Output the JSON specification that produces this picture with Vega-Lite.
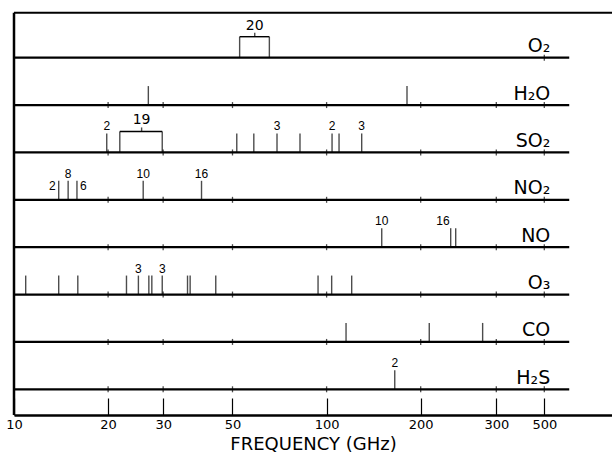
{
  "$schema": "https://vega.github.io/schema/vega-lite/v6.json",
  "width": 598,
  "height": 402.3,
  "autosize": {"type": "none"},
  "padding": {"left": 14, "top": 12.7, "right": 0, "bottom": 39},
  "background": "white",
  "config": {"view": {"stroke": null}},
  "datasets": {
    "rows": [
      {"mol": "O₂", "ticks": [500]},
      {"mol": "H₂O", "ticks": [20, 30, 50, 100, 200, 300, 500]},
      {"mol": "SO₂", "ticks": [20, 30, 50, 100, 200, 300, 500]},
      {"mol": "NO₂", "ticks": [20, 30, 50, 100, 200, 300, 500]},
      {"mol": "NO", "ticks": [20, 30, 50, 100, 200, 300, 500]},
      {"mol": "O₃", "ticks": [20, 30, 50, 100, 200, 300, 500]},
      {"mol": "CO", "ticks": [20, 30, 50, 100, 200, 300, 500]},
      {"mol": "H₂S", "ticks": [20, 30, 50, 100, 200, 300, 500]}
    ],
    "lines": [
      {"mol": "H₂O", "freq": 26.9},
      {"mol": "H₂O", "freq": 180.8},
      {"mol": "SO₂", "freq": 19.8},
      {"mol": "SO₂", "freq": 51.6},
      {"mol": "SO₂", "freq": 58.5},
      {"mol": "SO₂", "freq": 69.4},
      {"mol": "SO₂", "freq": 82.2},
      {"mol": "SO₂", "freq": 104.1},
      {"mol": "SO₂", "freq": 109.6},
      {"mol": "SO₂", "freq": 129.5},
      {"mol": "NO₂", "freq": 13.9},
      {"mol": "NO₂", "freq": 14.9},
      {"mol": "NO₂", "freq": 15.9},
      {"mol": "NO₂", "freq": 25.9},
      {"mol": "NO₂", "freq": 39.8},
      {"mol": "NO", "freq": 150.1},
      {"mol": "NO", "freq": 234.9},
      {"mol": "NO", "freq": 241.3},
      {"mol": "O₃", "freq": 10.9},
      {"mol": "O₃", "freq": 13.9},
      {"mol": "O₃", "freq": 16.0},
      {"mol": "O₃", "freq": 22.9},
      {"mol": "O₃", "freq": 25.0},
      {"mol": "O₃", "freq": 27.0},
      {"mol": "O₃", "freq": 27.6},
      {"mol": "O₃", "freq": 29.8},
      {"mol": "O₃", "freq": 35.9},
      {"mol": "O₃", "freq": 36.6},
      {"mol": "O₃", "freq": 44.2},
      {"mol": "O₃", "freq": 93.9},
      {"mol": "O₃", "freq": 103.8},
      {"mol": "O₃", "freq": 120.3},
      {"mol": "CO", "freq": 115.4},
      {"mol": "CO", "freq": 209.4},
      {"mol": "CO", "freq": 278.8},
      {"mol": "H₂S", "freq": 165.2}
    ],
    "braces": [
      {"mol": "O₂", "lo": 52.7, "hi": 65.6, "mid": 58.9, "label": "20"},
      {"mol": "SO₂", "lo": 21.8, "hi": 29.8, "mid": 25.6, "label": "19"}
    ],
    "labelsAbove": [
      {"mol": "SO₂", "freq": 19.8, "label": "2"},
      {"mol": "SO₂", "freq": 69.4, "label": "3"},
      {"mol": "SO₂", "freq": 104.1, "label": "2"},
      {"mol": "SO₂", "freq": 129.5, "label": "3"},
      {"mol": "NO₂", "freq": 14.9, "label": "8"},
      {"mol": "NO₂", "freq": 25.9, "label": "10"},
      {"mol": "NO₂", "freq": 39.8, "label": "16"},
      {"mol": "NO", "freq": 150.1, "label": "10"},
      {"mol": "O₃", "freq": 25.0, "label": "3"},
      {"mol": "O₃", "freq": 29.8, "label": "3"},
      {"mol": "H₂S", "freq": 165.2, "label": "2"}
    ],
    "labelsAboveLeft": [
      {"mol": "NO", "freq": 234.9, "label": "16"}
    ],
    "labelsLeft": [
      {"mol": "NO₂", "freq": 13.9, "label": "2"}
    ],
    "labelsRight": [
      {"mol": "NO₂", "freq": 15.9, "label": "6"}
    ]
  },
  "resolve": {"scale": {"y": "independent"}},
  "layer": [
    {
      "data": {"values": [{}]},
      "layer": [
        {
          "mark": {"type": "rule", "strokeWidth": 2.5, "color": "black"},
          "encoding": {
            "x": {"datum": 10, "type": "quantitative"},
            "y": {"datum": 0, "type": "quantitative", "scale": {"domain": [0, 1]}, "axis": null},
            "y2": {"datum": 1}
          }
        },
        {
          "mark": {"type": "rule", "strokeWidth": 2, "color": "black"},
          "encoding": {
            "x": {"datum": 10, "type": "quantitative"},
            "x2": {"datum": 824},
            "y": {"datum": 1, "type": "quantitative", "scale": {"domain": [0, 1]}, "axis": null}
          }
        }
      ]
    },
    {
      "layer": [
        {
          "data": {"name": "lines"},
          "mark": {"type": "tick", "orient": "vertical", "size": 19, "thickness": 1.4, "color": "black", "yOffset": -9.5},
          "encoding": {
            "x": {
              "field": "freq", "type": "quantitative", "title": "FREQUENCY (GHz)",
              "scale": {"type": "log", "domain": [10, 200, 300, 500, 824], "range": [0, 406.7, 482.3, 530.3, 598], "nice": false},
              "axis": {
                "values": [10, 20, 30, 50, 100, 200, 300, 500], "format": "d",
                "grid": false, "tickSize": -17, "tickWidth": 1.2, "tickColor": "black",
                "domainColor": "black", "domainWidth": 2.5,
                "labelFont": "DejaVu Sans", "labelFontSize": 13, "labelColor": "black",
                "labelPadding": 20, "labelFlush": false, "labelOverlap": false,
                "titleFont": "DejaVu Sans", "titleFontSize": 18, "titleFontWeight": "normal",
                "titleColor": "black", "titlePadding": 4
              }
            },
            "y": {"field": "mol", "type": "nominal", "axis": null,
                  "scale": {"type": "point", "domain": ["O₂", "H₂O", "SO₂", "NO₂", "NO", "O₃", "CO", "H₂S"], "padding": 0.7464, "align": 0.6365}}
          }
        },
        {
          "data": {"name": "rows"},
          "mark": {"type": "rule", "strokeWidth": 2.3, "color": "black"},
          "encoding": {
            "x": {"datum": 10, "type": "quantitative"},
            "x2": {"datum": 601},
            "y": {"field": "mol", "type": "nominal", "axis": null}
          }
        },
        {
          "data": {"name": "rows"},
          "transform": [{"flatten": ["ticks"], "as": ["tick"]}],
          "mark": {"type": "tick", "orient": "vertical", "size": 6, "thickness": 1.3, "color": "black"},
          "encoding": {
            "x": {"field": "tick", "type": "quantitative", "title": "FREQUENCY (GHz)"},
            "y": {"field": "mol", "type": "nominal", "axis": null}
          }
        },
        {
          "data": {"name": "braces"},
          "mark": {"type": "tick", "orient": "vertical", "size": 21, "thickness": 1.4, "color": "black", "yOffset": -10.5},
          "encoding": {
            "x": {"field": "lo", "type": "quantitative", "title": "FREQUENCY (GHz)"},
            "y": {"field": "mol", "type": "nominal", "axis": null}
          }
        },
        {
          "data": {"name": "braces"},
          "mark": {"type": "tick", "orient": "vertical", "size": 21, "thickness": 1.4, "color": "black", "yOffset": -10.5},
          "encoding": {
            "x": {"field": "hi", "type": "quantitative", "title": "FREQUENCY (GHz)"},
            "y": {"field": "mol", "type": "nominal", "axis": null}
          }
        },
        {
          "data": {"name": "braces"},
          "mark": {"type": "rule", "strokeWidth": 1.4, "color": "black", "yOffset": -21},
          "encoding": {
            "x": {"field": "lo", "type": "quantitative", "title": "FREQUENCY (GHz)"},
            "x2": {"field": "hi"},
            "y": {"field": "mol", "type": "nominal", "axis": null}
          }
        },
        {
          "data": {"name": "braces"},
          "mark": {"type": "tick", "orient": "vertical", "size": 4, "thickness": 1.4, "color": "black", "yOffset": -23},
          "encoding": {
            "x": {"field": "mid", "type": "quantitative", "title": "FREQUENCY (GHz)"},
            "y": {"field": "mol", "type": "nominal", "axis": null}
          }
        },
        {
          "data": {"name": "braces"},
          "mark": {"type": "text", "font": "DejaVu Sans", "fontSize": 14, "color": "black", "align": "center", "baseline": "alphabetic", "dy": -28},
          "encoding": {
            "x": {"field": "mid", "type": "quantitative", "title": "FREQUENCY (GHz)"},
            "y": {"field": "mol", "type": "nominal", "axis": null},
            "text": {"field": "label"}
          }
        },
        {
          "data": {"name": "labelsAbove"},
          "mark": {"type": "text", "font": "Liberation Sans", "fontSize": 12, "color": "black", "align": "center", "baseline": "alphabetic", "dy": -22},
          "encoding": {
            "x": {"field": "freq", "type": "quantitative", "title": "FREQUENCY (GHz)"},
            "y": {"field": "mol", "type": "nominal", "axis": null},
            "text": {"field": "label"}
          }
        },
        {
          "data": {"name": "labelsAboveLeft"},
          "mark": {"type": "text", "font": "Liberation Sans", "fontSize": 12, "color": "black", "align": "right", "baseline": "alphabetic", "dy": -22, "dx": -1},
          "encoding": {
            "x": {"field": "freq", "type": "quantitative", "title": "FREQUENCY (GHz)"},
            "y": {"field": "mol", "type": "nominal", "axis": null},
            "text": {"field": "label"}
          }
        },
        {
          "data": {"name": "labelsLeft"},
          "mark": {"type": "text", "font": "Liberation Sans", "fontSize": 12, "color": "black", "align": "right", "baseline": "alphabetic", "dy": -9.5, "dx": -3},
          "encoding": {
            "x": {"field": "freq", "type": "quantitative", "title": "FREQUENCY (GHz)"},
            "y": {"field": "mol", "type": "nominal", "axis": null},
            "text": {"field": "label"}
          }
        },
        {
          "data": {"name": "labelsRight"},
          "mark": {"type": "text", "font": "Liberation Sans", "fontSize": 12, "color": "black", "align": "left", "baseline": "alphabetic", "dy": -10, "dx": 3},
          "encoding": {
            "x": {"field": "freq", "type": "quantitative", "title": "FREQUENCY (GHz)"},
            "y": {"field": "mol", "type": "nominal", "axis": null},
            "text": {"field": "label"}
          }
        },
        {
          "data": {"name": "rows"},
          "mark": {"type": "text", "font": "DejaVu Sans", "fontSize": 19, "color": "black", "align": "right", "baseline": "alphabetic", "dy": -5.5, "dx": 6},
          "encoding": {
            "x": {"datum": 500, "type": "quantitative"},
            "y": {"field": "mol", "type": "nominal", "axis": null},
            "text": {"field": "mol"}
          }
        }
      ]
    }
  ]
}
